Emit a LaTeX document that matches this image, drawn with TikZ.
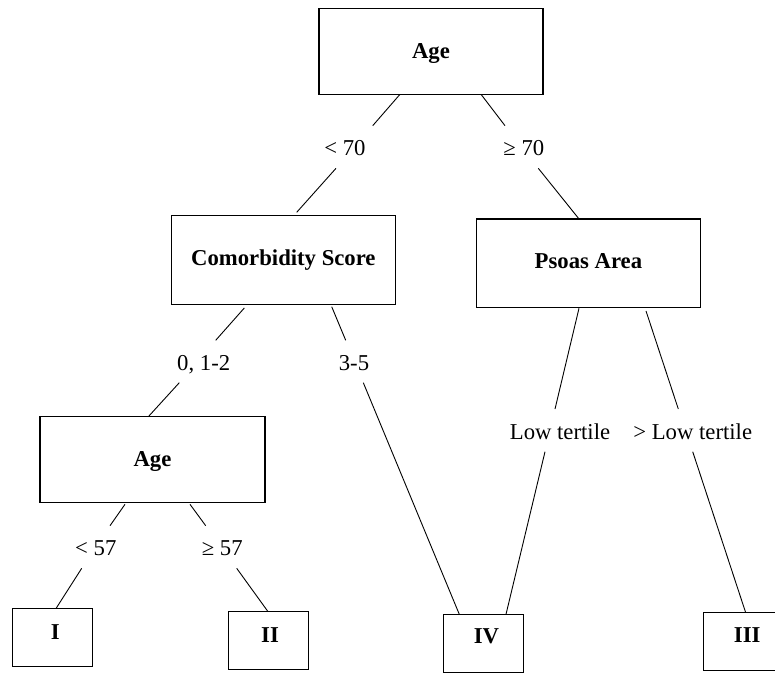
\documentclass[tikz,border=0pt]{standalone}
\usepackage{fontspec}
\setmainfont{Liberation Serif}
\usetikzlibrary{calc}
\begin{document}
\begin{tikzpicture}[x=1pt,y=-1pt,
  every node/.style={inner sep=0pt,outer sep=0pt,font=\fontsize{22.7}{27}\selectfont},
  bigbox/.style={draw,line width=1.1pt,minimum width=224.5pt,minimum height=88pt},
  leafbox/.style={draw,line width=1.1pt,minimum width=79.5pt,minimum height=58pt},
  boxtext/.style={anchor=base,font=\fontsize{22.7}{27}\selectfont\bfseries},
  cond/.style={anchor=base},
  conn/.style={line width=0.9pt}]
\useasboundingbox (0,0) rectangle (775,673);
% boxes
\node[bigbox,minimum width=224pt,minimum height=86pt] (age1) at (431,51.3) {};
\node[boxtext] (age1t) at ($(age1.center)+(0,7)$) {Age};
\node[bigbox,minimum height=89pt] (comorb) at (283.4,260.2) {};
\node[boxtext] (comorbt) at ($(comorb.center)+(0,4.8)$) {Comorbidity Score};
\node[bigbox,minimum height=88.7pt] (psoas) at (588.4,263.3) {};
\node[boxtext] (psoast) at ($(psoas.center)+(0,5)$) {Psoas Area};
\node[bigbox,minimum width=225pt,minimum height=85.6pt] (age2) at (152.5,459.5) {};
\node[boxtext] (age2t) at ($(age2.center)+(0,6.5)$) {Age};
\node[leafbox] (I) at (52.3,637.5) {};
\node[boxtext] (It) at ($(I.center)+(3,1.5)$) {I};
\node[leafbox] (II) at (268.3,640.2) {};
\node[boxtext] (IIt) at ($(II.center)+(1.7,1.8)$) {II};
\node[leafbox,minimum width=80pt] (IV) at (483.3,643.3) {};
\node[boxtext] (IVt) at ($(IV.center)+(3.2,0)$) {IV};
\node[leafbox,minimum width=80pt] (III) at (743.3,641.7) {};
\node[boxtext] (IIIt) at ($(III.center)+(3.9,1)$) {III};
% condition labels
\node[cond] (l70) at (345,155.7) {< 70};
\node[cond] (g70) at (523.8,155.7) {≥ 70};
\node[cond] (l012) at (203.7,370.7) {0, 1-2};
\node[cond] (l35) at (354,370.7) {3-5};
\node[cond] (llow) at (560,439) {Low tertile};
\node[cond] (lhigh) at (692.7,439) {> Low tertile};
\node[cond] (l57) at (95.8,555.7) {< 57};
\node[cond] (g57) at (222.2,555.7) {≥ 57};
% connectors
\draw[conn] ($(age1.south)+(-31,0)$) -- ($(l70.base)+(27.7,-30)$);
\draw[conn] ($(l70.base)+(-9,12.6)$) -- ($(comorb.north)+(13.3,-3.4)$);
\draw[conn] ($(age1.south)+(50,0)$) -- ($(g70.base)+(-18.8,-30)$);
\draw[conn] ($(g70.base)+(14.5,12.6)$) -- ($(psoas.north)+(-9.4,0)$);
\draw[conn] ($(comorb.south)+(-39.1,3.3)$) -- ($(l012.base)+(12,-30.4)$);
\draw[conn] ($(l012.base)+(-24.4,12)$) -- ($(age2.north)+(-4.2,0)$);
\draw[conn] ($(comorb.south)+(48.3,2)$) -- ($(l35.base)+(-8.3,-30.4)$);
\draw[conn] ($(l35.base)+(9.3,12)$) -- ($(IV.north)+(-24,0)$);
\draw[conn] ($(psoas.south)+(-9.4,0.6)$) -- ($(llow.base)+(-5,-30)$);
\draw[conn] ($(llow.base)+(-15,12.7)$) -- ($(IV.north)+(22.7,0)$);
\draw[conn] ($(psoas.south)+(57.6,3.3)$) -- ($(lhigh.base)+(-14.4,-30)$);
\draw[conn] ($(lhigh.base)+(0,12.7)$) -- ($(III.north)+(2.4,0)$);
\draw[conn] ($(age2.south)+(-27.5,2)$) -- ($(l57.base)+(14.2,-30)$);
\draw[conn] ($(l57.base)+(-14.1,12.6)$) -- ($(I.north)+(3.7,0)$);
\draw[conn] ($(age2.south)+(37.5,2)$) -- ($(g57.base)+(-16.5,-30)$);
\draw[conn] ($(g57.base)+(14.5,12.6)$) -- ($(II.north)+(-0.6,0)$);
\end{tikzpicture}
\end{document}
